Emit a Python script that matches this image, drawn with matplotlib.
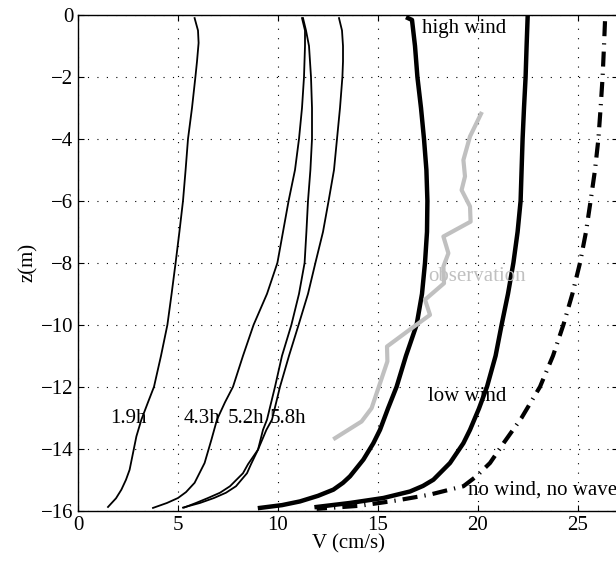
import matplotlib
matplotlib.use('Agg')
import matplotlib.pyplot as plt

plt.rcParams['font.family'] = ['Liberation Serif', 'DejaVu Serif']
plt.rcParams['font.size'] = 15

# velocity profiles V (cm/s) against depth z (m)
z_19 = [-0.1, -0.5, -0.9, -1.5, -2, -3, -4, -5, -6, -7, -8, -9, -10, -11, -11.77, -12, -12.5,
        -13.06, -13.6, -14.14, -14.68, -15.0, -15.32, -15.6, -15.88]
v_19 = [5.83, 6.0, 6.03, 5.95, 5.87, 5.7, 5.5, 5.38, 5.25, 5.07, 4.88, 4.68, 4.47, 4.15, 3.88, 3.8, 3.5,
        3.17, 2.92, 2.75, 2.58, 2.4, 2.17, 1.9, 1.5]

z_43 = [-0.1, -0.5, -1, -2, -3, -4, -5, -6, -7, -8, -9, -10, -11, -12, -12.5, -13.06, -13.71, -14.46,
        -15.1, -15.4, -15.59, -15.75, -15.91]
v_43 = [11.2, 11.35, 11.35, 11.3, 11.2, 11.05, 10.85, 10.53, 10.25, 9.97, 9.45, 8.78, 8.25, 7.75, 7.35, 6.95, 6.67, 6.33,
        5.83, 5.4, 5.0, 4.45, 3.75]

z_52 = [-0.1, -0.5, -1, -2, -3, -4, -5, -6, -7, -8, -9, -10, -11, -12, -13.06, -13.39, -14.03, -14.5,
        -14.79, -15.21, -15.42, -15.59, -15.75, -15.9]
v_52 = [11.25, 11.4, 11.55, 11.65, 11.7, 11.7, 11.62, 11.5, 11.42, 11.33, 11.05, 10.67, 10.2, 9.85, 9.45, 9.25, 9.0, 8.65,
        8.45, 7.9, 7.4, 6.8, 6.1, 5.25]

z_58 = [-0.1, -0.5, -1, -1.5, -2, -3, -4, -5, -6, -7, -8, -9, -10, -11, -12, -13.06, -13.39, -14.03, -14.5,
        -14.79, -15.21, -15.42, -15.59, -15.75, -15.9]
v_58 = [13.05, 13.2, 13.25, 13.25, 13.22, 13.1, 12.95, 12.8, 12.53, 12.25, 11.87, 11.5, 11.03, 10.55, 10.1, 9.7, 9.42, 9.0, 8.5,
        8.25, 7.6, 7.1, 6.5, 5.9, 5.3]

z_high = [-0.1, -0.16, -1, -2, -3, -4, -5, -6, -7, -8, -9, -10, -11, -12, -12.7, -13.39, -13.82, -14.35,
          -14.89, -15.1, -15.32, -15.52, -15.7, -15.82, -15.91]
v_high = [16.5, 16.7, 16.85, 16.97, 17.15, 17.3, 17.42, 17.47, 17.45, 17.35, 17.2, 16.93, 16.4, 15.93, 15.5, 15.1, 14.77, 14.27,
          13.6, 13.25, 12.77, 12.0, 11.1, 10.2, 9.1]

z_low = [-0.1, -1, -2, -3, -4, -5, -6, -7, -8, -9, -10, -11, -12, -12.7, -13.39, -13.82, -14.46,
         -15.0, -15.2, -15.38, -15.59, -15.75, -15.88]
v_low = [22.48, 22.43, 22.38, 22.3, 22.23, 22.18, 22.13, 21.98, 21.77, 21.5, 21.18, 20.88, 20.45, 20.05, 19.6, 19.27, 18.6,
         17.77, 17.25, 16.6, 15.27, 13.6, 11.93]

z_none = [-0.2, -1, -2, -3, -4, -5, -6, -7, -8, -9, -10, -11, -12, -13, -13.8, -14.46,
          -14.9, -15.21, -15.48, -15.67, -15.84, -15.94]
v_none = [26.35, 26.3, 26.23, 26.13, 26.02, 25.85, 25.63, 25.4, 25.1, 24.72, 24.27, 23.75, 23.1, 22.18, 21.3, 20.6,
          19.9, 19.27, 17.6, 15.93, 14.1, 11.93]

z_obs = [-3.19, -3.92, -4.68, -5.21, -5.65, -6.18, -6.67, -7.15, -7.69, -8.12, -8.66, -9.19, -9.68, -10.16,
         -10.7, -11.18, -12.69, -13.12, -13.66]
v_obs = [20.15, 19.6, 19.27, 19.35, 19.18, 19.6, 19.63, 18.27, 18.52, 18.27, 18.3, 17.35, 17.6, 16.58,
         15.45, 15.47, 14.68, 14.18, 12.85]

xticks = [0, 5, 10, 15, 20, 25]
yticks = [0, -2, -4, -6, -8, -10, -12, -14, -16]

fig = plt.figure(figsize=(6.16, 5.63), dpi=100)
ax = fig.add_axes([78 / 616, 52.3 / 563, 540 / 616, 495.7 / 563])

ax.plot(v_19, z_19, color='black', lw=1.3)
ax.plot(v_43, z_43, color='black', lw=1.3)
ax.plot(v_52, z_52, color='black', lw=1.3)
ax.plot(v_58, z_58, color='black', lw=1.3)
ax.plot(v_high, z_high, color='black', lw=3.2)
ax.plot(v_low, z_low, color='black', lw=3.2)
ax.plot(v_none, z_none, color='black', lw=3.0, linestyle=(0, (3.6, 1.7, 0.3, 1.7)))
ax.plot(v_obs, z_obs, color='#c0c0c0', lw=3.0)

ax.text(17.18, -0.42, 'high wind', va='center')
ax.text(17.52, -8.44, 'observation', va='center', color='#c0c0c0')
ax.text(17.52, -12.31, 'low wind', va='center')
ax.text(19.52, -15.32, 'no wind, no wave', va='center')
ax.text(1.6, -13.03, '1.9h', va='center')
ax.text(5.27, -13.03, '4.3h', va='center')
ax.text(7.48, -13.03, '5.2h', va='center')
ax.text(9.57, -13.03, '5.8h', va='center')

ax.set_xlim(0, 27)
ax.set_ylim(-16, 0)
ax.set_xticks(xticks)
ax.set_yticks(yticks)
ax.grid(True, color='black', lw=0.8, linestyle=(0, (1, 7.5)))
ax.tick_params(direction='in', top=True, right=True, length=4, width=0.8, labelsize=15)
for s in ax.spines.values():
    s.set_linewidth(1.0)

ax.set_xlabel('V (cm/s)', labelpad=0)
ax.set_ylabel('z(m)', labelpad=2)

fig.savefig('out.png', dpi=100)
